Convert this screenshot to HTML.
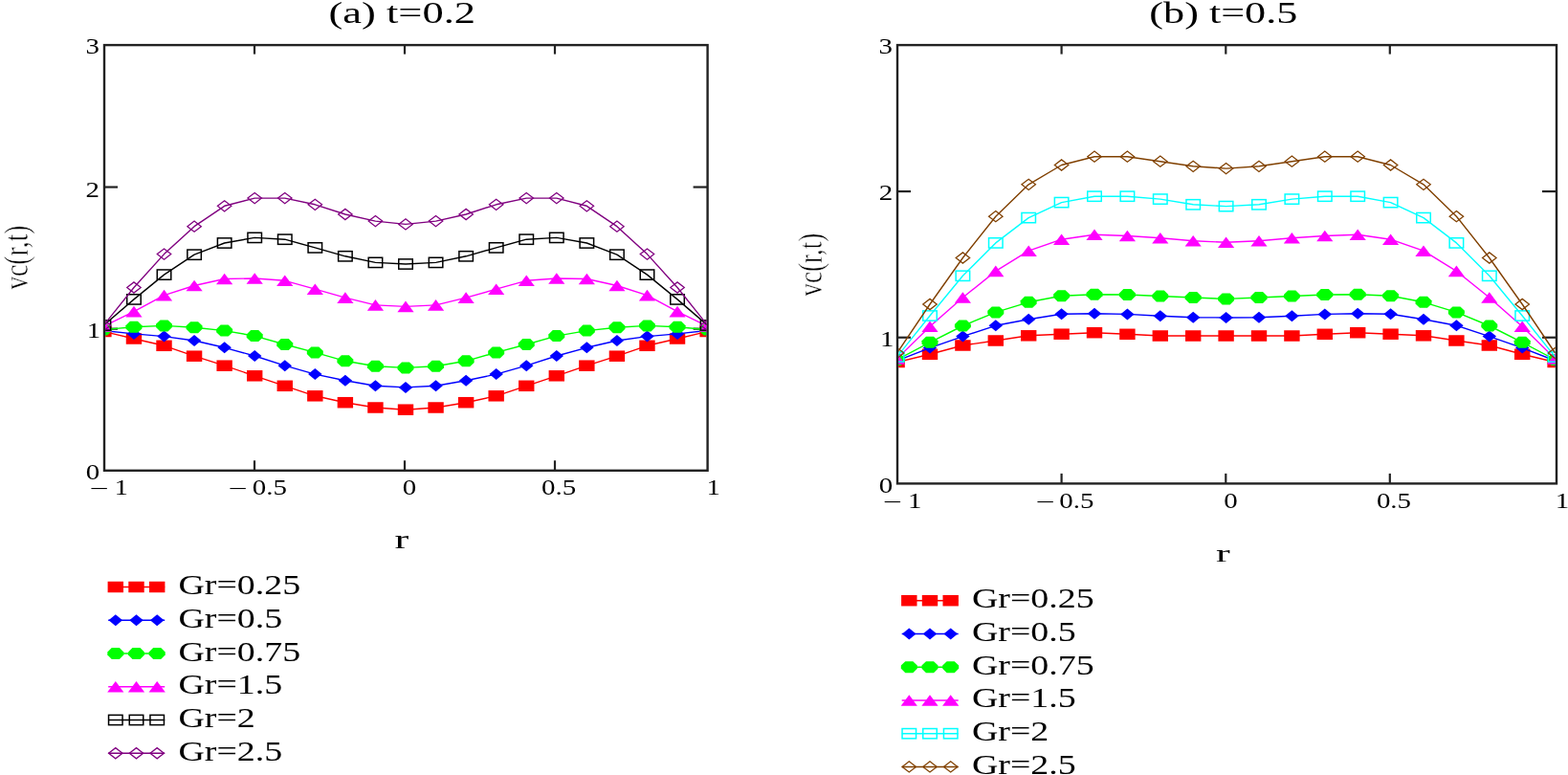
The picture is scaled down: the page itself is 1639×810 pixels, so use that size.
<!DOCTYPE html>
<html><head><meta charset="utf-8"><title>vc(r,t) plots</title>
<style>html,body{margin:0;padding:0;background:#fff;overflow:hidden;}svg{display:block;}
text{font-family:"Liberation Serif","Times New Roman",serif;}</style></head>
<body><svg width="1639" height="810" viewBox="0 0 1639 810">
<rect width="1639" height="810" fill="#fff"/>
<rect x="109" y="47.1" width="630.6" height="444.7" fill="none" stroke="#222" stroke-width="2.4"/>
<line x1="266" y1="491.8" x2="266" y2="481.3" stroke="#222" stroke-width="2.2"/>
<line x1="266" y1="47.1" x2="266" y2="56.6" stroke="#222" stroke-width="2.2"/>
<line x1="423" y1="491.8" x2="423" y2="481.3" stroke="#222" stroke-width="2.2"/>
<line x1="423" y1="47.1" x2="423" y2="56.6" stroke="#222" stroke-width="2.2"/>
<line x1="580" y1="491.8" x2="580" y2="481.3" stroke="#222" stroke-width="2.2"/>
<line x1="580" y1="47.1" x2="580" y2="56.6" stroke="#222" stroke-width="2.2"/>
<line x1="109" y1="343.67" x2="123" y2="343.67" stroke="#222" stroke-width="2.2"/>
<line x1="739.6" y1="343.67" x2="724.6" y2="343.67" stroke="#222" stroke-width="2.2"/>
<line x1="109" y1="195.54" x2="123" y2="195.54" stroke="#222" stroke-width="2.2"/>
<line x1="739.6" y1="195.54" x2="724.6" y2="195.54" stroke="#222" stroke-width="2.2"/>
<clipPath id="cl"><rect x="110.2" y="48.300000000000004" width="628.20" height="442.30"/></clipPath>
<g clip-path="url(#cl)">
<polyline points="108.40,346.50 139.96,354.00 171.52,361.30 203.08,372.20 234.64,382.20 266.20,392.80 297.76,403.30 329.32,413.80 360.88,420.70 392.44,426.00 424.00,428.20 455.56,426.00 487.12,420.70 518.68,413.80 550.24,403.30 581.80,392.80 613.36,382.20 644.92,372.20 676.48,361.30 708.04,354.00 739.60,346.50" fill="none" stroke="#ff0000" stroke-width="1.4" stroke-linejoin="round"/>
<rect x="100.20" y="340.75" width="16.4" height="11.5" fill="#ff0000"/>
<rect x="131.76" y="348.25" width="16.4" height="11.5" fill="#ff0000"/>
<rect x="163.32" y="355.55" width="16.4" height="11.5" fill="#ff0000"/>
<rect x="194.88" y="366.45" width="16.4" height="11.5" fill="#ff0000"/>
<rect x="226.44" y="376.45" width="16.4" height="11.5" fill="#ff0000"/>
<rect x="258.00" y="387.05" width="16.4" height="11.5" fill="#ff0000"/>
<rect x="289.56" y="397.55" width="16.4" height="11.5" fill="#ff0000"/>
<rect x="321.12" y="408.05" width="16.4" height="11.5" fill="#ff0000"/>
<rect x="352.68" y="414.95" width="16.4" height="11.5" fill="#ff0000"/>
<rect x="384.24" y="420.25" width="16.4" height="11.5" fill="#ff0000"/>
<rect x="415.80" y="422.45" width="16.4" height="11.5" fill="#ff0000"/>
<rect x="447.36" y="420.25" width="16.4" height="11.5" fill="#ff0000"/>
<rect x="478.92" y="414.95" width="16.4" height="11.5" fill="#ff0000"/>
<rect x="510.48" y="408.05" width="16.4" height="11.5" fill="#ff0000"/>
<rect x="542.04" y="397.55" width="16.4" height="11.5" fill="#ff0000"/>
<rect x="573.60" y="387.05" width="16.4" height="11.5" fill="#ff0000"/>
<rect x="605.16" y="376.45" width="16.4" height="11.5" fill="#ff0000"/>
<rect x="636.72" y="366.45" width="16.4" height="11.5" fill="#ff0000"/>
<rect x="668.28" y="355.55" width="16.4" height="11.5" fill="#ff0000"/>
<rect x="699.84" y="348.25" width="16.4" height="11.5" fill="#ff0000"/>
<rect x="731.40" y="340.75" width="16.4" height="11.5" fill="#ff0000"/>
<polyline points="108.40,345.50 139.96,348.90 171.52,351.60 203.08,356.00 234.64,363.30 266.20,372.00 297.76,382.20 329.32,391.10 360.88,397.80 392.44,403.30 424.00,404.90 455.56,403.30 487.12,397.80 518.68,391.10 550.24,382.20 581.80,372.00 613.36,363.30 644.92,356.00 676.48,351.60 708.04,348.90 739.60,345.50" fill="none" stroke="#0000ff" stroke-width="1.4" stroke-linejoin="round"/>
<path d="M101.15 345.50L108.40 339.50L115.65 345.50L108.40 351.50Z" fill="#0000ff"/>
<path d="M132.71 348.90L139.96 342.90L147.21 348.90L139.96 354.90Z" fill="#0000ff"/>
<path d="M164.27 351.60L171.52 345.60L178.77 351.60L171.52 357.60Z" fill="#0000ff"/>
<path d="M195.83 356.00L203.08 350.00L210.33 356.00L203.08 362.00Z" fill="#0000ff"/>
<path d="M227.39 363.30L234.64 357.30L241.89 363.30L234.64 369.30Z" fill="#0000ff"/>
<path d="M258.95 372.00L266.20 366.00L273.45 372.00L266.20 378.00Z" fill="#0000ff"/>
<path d="M290.51 382.20L297.76 376.20L305.01 382.20L297.76 388.20Z" fill="#0000ff"/>
<path d="M322.07 391.10L329.32 385.10L336.57 391.10L329.32 397.10Z" fill="#0000ff"/>
<path d="M353.63 397.80L360.88 391.80L368.13 397.80L360.88 403.80Z" fill="#0000ff"/>
<path d="M385.19 403.30L392.44 397.30L399.69 403.30L392.44 409.30Z" fill="#0000ff"/>
<path d="M416.75 404.90L424.00 398.90L431.25 404.90L424.00 410.90Z" fill="#0000ff"/>
<path d="M448.31 403.30L455.56 397.30L462.81 403.30L455.56 409.30Z" fill="#0000ff"/>
<path d="M479.87 397.80L487.12 391.80L494.37 397.80L487.12 403.80Z" fill="#0000ff"/>
<path d="M511.43 391.10L518.68 385.10L525.93 391.10L518.68 397.10Z" fill="#0000ff"/>
<path d="M542.99 382.20L550.24 376.20L557.49 382.20L550.24 388.20Z" fill="#0000ff"/>
<path d="M574.55 372.00L581.80 366.00L589.05 372.00L581.80 378.00Z" fill="#0000ff"/>
<path d="M606.11 363.30L613.36 357.30L620.61 363.30L613.36 369.30Z" fill="#0000ff"/>
<path d="M637.67 356.00L644.92 350.00L652.17 356.00L644.92 362.00Z" fill="#0000ff"/>
<path d="M669.23 351.60L676.48 345.60L683.73 351.60L676.48 357.60Z" fill="#0000ff"/>
<path d="M700.79 348.90L708.04 342.90L715.29 348.90L708.04 354.90Z" fill="#0000ff"/>
<path d="M732.35 345.50L739.60 339.50L746.85 345.50L739.60 351.50Z" fill="#0000ff"/>
<polyline points="108.40,344.50 139.96,341.80 171.52,340.40 203.08,342.20 234.64,345.60 266.20,351.10 297.76,360.00 329.32,368.40 360.88,377.30 392.44,382.70 424.00,384.40 455.56,382.70 487.12,377.30 518.68,368.40 550.24,360.00 581.80,351.10 613.36,345.60 644.92,342.20 676.48,340.40 708.04,341.80 739.60,344.50" fill="none" stroke="#00ff00" stroke-width="1.4" stroke-linejoin="round"/>
<path d="M104.40 338.50L112.40 338.50L116.90 342.90L116.90 346.10L112.40 350.50L104.40 350.50L99.90 346.10L99.90 342.90Z" fill="#00ff00"/>
<path d="M135.96 335.80L143.96 335.80L148.46 340.20L148.46 343.40L143.96 347.80L135.96 347.80L131.46 343.40L131.46 340.20Z" fill="#00ff00"/>
<path d="M167.52 334.40L175.52 334.40L180.02 338.80L180.02 342.00L175.52 346.40L167.52 346.40L163.02 342.00L163.02 338.80Z" fill="#00ff00"/>
<path d="M199.08 336.20L207.08 336.20L211.58 340.60L211.58 343.80L207.08 348.20L199.08 348.20L194.58 343.80L194.58 340.60Z" fill="#00ff00"/>
<path d="M230.64 339.60L238.64 339.60L243.14 344.00L243.14 347.20L238.64 351.60L230.64 351.60L226.14 347.20L226.14 344.00Z" fill="#00ff00"/>
<path d="M262.20 345.10L270.20 345.10L274.70 349.50L274.70 352.70L270.20 357.10L262.20 357.10L257.70 352.70L257.70 349.50Z" fill="#00ff00"/>
<path d="M293.76 354.00L301.76 354.00L306.26 358.40L306.26 361.60L301.76 366.00L293.76 366.00L289.26 361.60L289.26 358.40Z" fill="#00ff00"/>
<path d="M325.32 362.40L333.32 362.40L337.82 366.80L337.82 370.00L333.32 374.40L325.32 374.40L320.82 370.00L320.82 366.80Z" fill="#00ff00"/>
<path d="M356.88 371.30L364.88 371.30L369.38 375.70L369.38 378.90L364.88 383.30L356.88 383.30L352.38 378.90L352.38 375.70Z" fill="#00ff00"/>
<path d="M388.44 376.70L396.44 376.70L400.94 381.10L400.94 384.30L396.44 388.70L388.44 388.70L383.94 384.30L383.94 381.10Z" fill="#00ff00"/>
<path d="M420.00 378.40L428.00 378.40L432.50 382.80L432.50 386.00L428.00 390.40L420.00 390.40L415.50 386.00L415.50 382.80Z" fill="#00ff00"/>
<path d="M451.56 376.70L459.56 376.70L464.06 381.10L464.06 384.30L459.56 388.70L451.56 388.70L447.06 384.30L447.06 381.10Z" fill="#00ff00"/>
<path d="M483.12 371.30L491.12 371.30L495.62 375.70L495.62 378.90L491.12 383.30L483.12 383.30L478.62 378.90L478.62 375.70Z" fill="#00ff00"/>
<path d="M514.68 362.40L522.68 362.40L527.18 366.80L527.18 370.00L522.68 374.40L514.68 374.40L510.18 370.00L510.18 366.80Z" fill="#00ff00"/>
<path d="M546.24 354.00L554.24 354.00L558.74 358.40L558.74 361.60L554.24 366.00L546.24 366.00L541.74 361.60L541.74 358.40Z" fill="#00ff00"/>
<path d="M577.80 345.10L585.80 345.10L590.30 349.50L590.30 352.70L585.80 357.10L577.80 357.10L573.30 352.70L573.30 349.50Z" fill="#00ff00"/>
<path d="M609.36 339.60L617.36 339.60L621.86 344.00L621.86 347.20L617.36 351.60L609.36 351.60L604.86 347.20L604.86 344.00Z" fill="#00ff00"/>
<path d="M640.92 336.20L648.92 336.20L653.42 340.60L653.42 343.80L648.92 348.20L640.92 348.20L636.42 343.80L636.42 340.60Z" fill="#00ff00"/>
<path d="M672.48 334.40L680.48 334.40L684.98 338.80L684.98 342.00L680.48 346.40L672.48 346.40L667.98 342.00L667.98 338.80Z" fill="#00ff00"/>
<path d="M704.04 335.80L712.04 335.80L716.54 340.20L716.54 343.40L712.04 347.80L704.04 347.80L699.54 343.40L699.54 340.20Z" fill="#00ff00"/>
<path d="M735.60 338.50L743.60 338.50L748.10 342.90L748.10 346.10L743.60 350.50L735.60 350.50L731.10 346.10L731.10 342.90Z" fill="#00ff00"/>
<polyline points="108.40,341.00 139.96,325.60 171.52,308.60 203.08,298.50 234.64,291.50 266.20,291.00 297.76,293.30 329.32,302.20 360.88,311.10 392.44,318.90 424.00,320.40 455.56,318.90 487.12,311.10 518.68,302.20 550.24,293.30 581.80,291.00 613.36,291.50 644.92,298.50 676.48,308.60 708.04,325.60 739.60,341.00" fill="none" stroke="#ff00ff" stroke-width="1.4" stroke-linejoin="round"/>
<path d="M108.40 335.20L117.00 346.80L99.80 346.80Z" fill="#ff00ff"/>
<path d="M139.96 319.80L148.56 331.40L131.36 331.40Z" fill="#ff00ff"/>
<path d="M171.52 302.80L180.12 314.40L162.92 314.40Z" fill="#ff00ff"/>
<path d="M203.08 292.70L211.68 304.30L194.48 304.30Z" fill="#ff00ff"/>
<path d="M234.64 285.70L243.24 297.30L226.04 297.30Z" fill="#ff00ff"/>
<path d="M266.20 285.20L274.80 296.80L257.60 296.80Z" fill="#ff00ff"/>
<path d="M297.76 287.50L306.36 299.10L289.16 299.10Z" fill="#ff00ff"/>
<path d="M329.32 296.40L337.92 308.00L320.72 308.00Z" fill="#ff00ff"/>
<path d="M360.88 305.30L369.48 316.90L352.28 316.90Z" fill="#ff00ff"/>
<path d="M392.44 313.10L401.04 324.70L383.84 324.70Z" fill="#ff00ff"/>
<path d="M424.00 314.60L432.60 326.20L415.40 326.20Z" fill="#ff00ff"/>
<path d="M455.56 313.10L464.16 324.70L446.96 324.70Z" fill="#ff00ff"/>
<path d="M487.12 305.30L495.72 316.90L478.52 316.90Z" fill="#ff00ff"/>
<path d="M518.68 296.40L527.28 308.00L510.08 308.00Z" fill="#ff00ff"/>
<path d="M550.24 287.50L558.84 299.10L541.64 299.10Z" fill="#ff00ff"/>
<path d="M581.80 285.20L590.40 296.80L573.20 296.80Z" fill="#ff00ff"/>
<path d="M613.36 285.70L621.96 297.30L604.76 297.30Z" fill="#ff00ff"/>
<path d="M644.92 292.70L653.52 304.30L636.32 304.30Z" fill="#ff00ff"/>
<path d="M676.48 302.80L685.08 314.40L667.88 314.40Z" fill="#ff00ff"/>
<path d="M708.04 319.80L716.64 331.40L699.44 331.40Z" fill="#ff00ff"/>
<path d="M739.60 335.20L748.20 346.80L731.00 346.80Z" fill="#ff00ff"/>
<polyline points="108.40,340.00 139.96,312.90 171.52,287.10 203.08,266.20 234.64,254.00 266.20,248.40 297.76,250.20 329.32,258.90 360.88,267.80 392.44,274.40 424.00,276.00 455.56,274.40 487.12,267.80 518.68,258.90 550.24,250.20 581.80,248.40 613.36,254.00 644.92,266.20 676.48,287.10 708.04,312.90 739.60,340.00" fill="none" stroke="#000000" stroke-width="1.4" stroke-linejoin="round"/>
<rect x="101.15" y="334.85" width="14.5" height="10.3" fill="none" stroke="#000000" stroke-width="1.5"/>
<rect x="132.71" y="307.75" width="14.5" height="10.3" fill="none" stroke="#000000" stroke-width="1.5"/>
<rect x="164.27" y="281.95" width="14.5" height="10.3" fill="none" stroke="#000000" stroke-width="1.5"/>
<rect x="195.83" y="261.05" width="14.5" height="10.3" fill="none" stroke="#000000" stroke-width="1.5"/>
<rect x="227.39" y="248.85" width="14.5" height="10.3" fill="none" stroke="#000000" stroke-width="1.5"/>
<rect x="258.95" y="243.25" width="14.5" height="10.3" fill="none" stroke="#000000" stroke-width="1.5"/>
<rect x="290.51" y="245.05" width="14.5" height="10.3" fill="none" stroke="#000000" stroke-width="1.5"/>
<rect x="322.07" y="253.75" width="14.5" height="10.3" fill="none" stroke="#000000" stroke-width="1.5"/>
<rect x="353.63" y="262.65" width="14.5" height="10.3" fill="none" stroke="#000000" stroke-width="1.5"/>
<rect x="385.19" y="269.25" width="14.5" height="10.3" fill="none" stroke="#000000" stroke-width="1.5"/>
<rect x="416.75" y="270.85" width="14.5" height="10.3" fill="none" stroke="#000000" stroke-width="1.5"/>
<rect x="448.31" y="269.25" width="14.5" height="10.3" fill="none" stroke="#000000" stroke-width="1.5"/>
<rect x="479.87" y="262.65" width="14.5" height="10.3" fill="none" stroke="#000000" stroke-width="1.5"/>
<rect x="511.43" y="253.75" width="14.5" height="10.3" fill="none" stroke="#000000" stroke-width="1.5"/>
<rect x="542.99" y="245.05" width="14.5" height="10.3" fill="none" stroke="#000000" stroke-width="1.5"/>
<rect x="574.55" y="243.25" width="14.5" height="10.3" fill="none" stroke="#000000" stroke-width="1.5"/>
<rect x="606.11" y="248.85" width="14.5" height="10.3" fill="none" stroke="#000000" stroke-width="1.5"/>
<rect x="637.67" y="261.05" width="14.5" height="10.3" fill="none" stroke="#000000" stroke-width="1.5"/>
<rect x="669.23" y="281.95" width="14.5" height="10.3" fill="none" stroke="#000000" stroke-width="1.5"/>
<rect x="700.79" y="307.75" width="14.5" height="10.3" fill="none" stroke="#000000" stroke-width="1.5"/>
<rect x="732.35" y="334.85" width="14.5" height="10.3" fill="none" stroke="#000000" stroke-width="1.5"/>
<polyline points="108.40,340.00 139.96,300.50 171.52,265.60 203.08,236.70 234.64,215.30 266.20,207.10 297.76,207.10 329.32,213.80 360.88,224.00 392.44,231.10 424.00,234.40 455.56,231.10 487.12,224.00 518.68,213.80 550.24,207.10 581.80,207.10 613.36,215.30 644.92,236.70 676.48,265.60 708.04,300.50 739.60,340.00" fill="none" stroke="#800080" stroke-width="1.4" stroke-linejoin="round"/>
<path d="M101.15 340.00L108.40 334.40L115.65 340.00L108.40 345.60Z" fill="none" stroke="#800080" stroke-width="1.25"/>
<path d="M132.71 300.50L139.96 294.90L147.21 300.50L139.96 306.10Z" fill="none" stroke="#800080" stroke-width="1.25"/>
<path d="M164.27 265.60L171.52 260.00L178.77 265.60L171.52 271.20Z" fill="none" stroke="#800080" stroke-width="1.25"/>
<path d="M195.83 236.70L203.08 231.10L210.33 236.70L203.08 242.30Z" fill="none" stroke="#800080" stroke-width="1.25"/>
<path d="M227.39 215.30L234.64 209.70L241.89 215.30L234.64 220.90Z" fill="none" stroke="#800080" stroke-width="1.25"/>
<path d="M258.95 207.10L266.20 201.50L273.45 207.10L266.20 212.70Z" fill="none" stroke="#800080" stroke-width="1.25"/>
<path d="M290.51 207.10L297.76 201.50L305.01 207.10L297.76 212.70Z" fill="none" stroke="#800080" stroke-width="1.25"/>
<path d="M322.07 213.80L329.32 208.20L336.57 213.80L329.32 219.40Z" fill="none" stroke="#800080" stroke-width="1.25"/>
<path d="M353.63 224.00L360.88 218.40L368.13 224.00L360.88 229.60Z" fill="none" stroke="#800080" stroke-width="1.25"/>
<path d="M385.19 231.10L392.44 225.50L399.69 231.10L392.44 236.70Z" fill="none" stroke="#800080" stroke-width="1.25"/>
<path d="M416.75 234.40L424.00 228.80L431.25 234.40L424.00 240.00Z" fill="none" stroke="#800080" stroke-width="1.25"/>
<path d="M448.31 231.10L455.56 225.50L462.81 231.10L455.56 236.70Z" fill="none" stroke="#800080" stroke-width="1.25"/>
<path d="M479.87 224.00L487.12 218.40L494.37 224.00L487.12 229.60Z" fill="none" stroke="#800080" stroke-width="1.25"/>
<path d="M511.43 213.80L518.68 208.20L525.93 213.80L518.68 219.40Z" fill="none" stroke="#800080" stroke-width="1.25"/>
<path d="M542.99 207.10L550.24 201.50L557.49 207.10L550.24 212.70Z" fill="none" stroke="#800080" stroke-width="1.25"/>
<path d="M574.55 207.10L581.80 201.50L589.05 207.10L581.80 212.70Z" fill="none" stroke="#800080" stroke-width="1.25"/>
<path d="M606.11 215.30L613.36 209.70L620.61 215.30L613.36 220.90Z" fill="none" stroke="#800080" stroke-width="1.25"/>
<path d="M637.67 236.70L644.92 231.10L652.17 236.70L644.92 242.30Z" fill="none" stroke="#800080" stroke-width="1.25"/>
<path d="M669.23 265.60L676.48 260.00L683.73 265.60L676.48 271.20Z" fill="none" stroke="#800080" stroke-width="1.25"/>
<path d="M700.79 300.50L708.04 294.90L715.29 300.50L708.04 306.10Z" fill="none" stroke="#800080" stroke-width="1.25"/>
<path d="M732.35 340.00L739.60 334.40L746.85 340.00L739.60 345.60Z" fill="none" stroke="#800080" stroke-width="1.25"/>
</g>
<rect x="938" y="47.1" width="689" height="458.29999999999995" fill="none" stroke="#222" stroke-width="2.4"/>
<line x1="1109.6" y1="505.4" x2="1109.6" y2="494.9" stroke="#222" stroke-width="2.2"/>
<line x1="1109.6" y1="47.1" x2="1109.6" y2="56.6" stroke="#222" stroke-width="2.2"/>
<line x1="1281.3" y1="505.4" x2="1281.3" y2="494.9" stroke="#222" stroke-width="2.2"/>
<line x1="1281.3" y1="47.1" x2="1281.3" y2="56.6" stroke="#222" stroke-width="2.2"/>
<line x1="1452.8" y1="505.4" x2="1452.8" y2="494.9" stroke="#222" stroke-width="2.2"/>
<line x1="1452.8" y1="47.1" x2="1452.8" y2="56.6" stroke="#222" stroke-width="2.2"/>
<line x1="938" y1="352.73" x2="952" y2="352.73" stroke="#222" stroke-width="2.2"/>
<line x1="1627" y1="352.73" x2="1612" y2="352.73" stroke="#222" stroke-width="2.2"/>
<line x1="938" y1="200.06" x2="952" y2="200.06" stroke="#222" stroke-width="2.2"/>
<line x1="1627" y1="200.06" x2="1612" y2="200.06" stroke="#222" stroke-width="2.2"/>
<clipPath id="cr"><rect x="939.2" y="48.300000000000004" width="686.60" height="455.90"/></clipPath>
<g clip-path="url(#cr)">
<polyline points="937.60,378.50 972.00,370.30 1006.40,361.00 1040.80,356.00 1075.20,350.80 1109.60,349.20 1144.00,347.70 1178.40,349.30 1212.80,351.00 1247.20,351.00 1281.60,351.00 1316.00,351.00 1350.40,351.00 1384.80,349.30 1419.20,347.70 1453.60,349.20 1488.00,350.80 1522.40,356.00 1556.80,361.00 1591.20,370.30 1625.60,378.50" fill="none" stroke="#ff0000" stroke-width="1.4" stroke-linejoin="round"/>
<rect x="929.40" y="372.75" width="16.4" height="11.5" fill="#ff0000"/>
<rect x="963.80" y="364.55" width="16.4" height="11.5" fill="#ff0000"/>
<rect x="998.20" y="355.25" width="16.4" height="11.5" fill="#ff0000"/>
<rect x="1032.60" y="350.25" width="16.4" height="11.5" fill="#ff0000"/>
<rect x="1067.00" y="345.05" width="16.4" height="11.5" fill="#ff0000"/>
<rect x="1101.40" y="343.45" width="16.4" height="11.5" fill="#ff0000"/>
<rect x="1135.80" y="341.95" width="16.4" height="11.5" fill="#ff0000"/>
<rect x="1170.20" y="343.55" width="16.4" height="11.5" fill="#ff0000"/>
<rect x="1204.60" y="345.25" width="16.4" height="11.5" fill="#ff0000"/>
<rect x="1239.00" y="345.25" width="16.4" height="11.5" fill="#ff0000"/>
<rect x="1273.40" y="345.25" width="16.4" height="11.5" fill="#ff0000"/>
<rect x="1307.80" y="345.25" width="16.4" height="11.5" fill="#ff0000"/>
<rect x="1342.20" y="345.25" width="16.4" height="11.5" fill="#ff0000"/>
<rect x="1376.60" y="343.55" width="16.4" height="11.5" fill="#ff0000"/>
<rect x="1411.00" y="341.95" width="16.4" height="11.5" fill="#ff0000"/>
<rect x="1445.40" y="343.45" width="16.4" height="11.5" fill="#ff0000"/>
<rect x="1479.80" y="345.05" width="16.4" height="11.5" fill="#ff0000"/>
<rect x="1514.20" y="350.25" width="16.4" height="11.5" fill="#ff0000"/>
<rect x="1548.60" y="355.25" width="16.4" height="11.5" fill="#ff0000"/>
<rect x="1583.00" y="364.55" width="16.4" height="11.5" fill="#ff0000"/>
<rect x="1617.40" y="372.75" width="16.4" height="11.5" fill="#ff0000"/>
<polyline points="937.60,377.00 972.00,363.60 1006.40,351.60 1040.80,340.30 1075.20,333.70 1109.60,328.30 1144.00,327.70 1178.40,328.40 1212.80,330.20 1247.20,331.70 1281.60,332.00 1316.00,331.70 1350.40,330.20 1384.80,328.40 1419.20,327.70 1453.60,328.30 1488.00,333.70 1522.40,340.30 1556.80,351.60 1591.20,363.60 1625.60,377.00" fill="none" stroke="#0000ff" stroke-width="1.4" stroke-linejoin="round"/>
<path d="M930.35 377.00L937.60 371.00L944.85 377.00L937.60 383.00Z" fill="#0000ff"/>
<path d="M964.75 363.60L972.00 357.60L979.25 363.60L972.00 369.60Z" fill="#0000ff"/>
<path d="M999.15 351.60L1006.40 345.60L1013.65 351.60L1006.40 357.60Z" fill="#0000ff"/>
<path d="M1033.55 340.30L1040.80 334.30L1048.05 340.30L1040.80 346.30Z" fill="#0000ff"/>
<path d="M1067.95 333.70L1075.20 327.70L1082.45 333.70L1075.20 339.70Z" fill="#0000ff"/>
<path d="M1102.35 328.30L1109.60 322.30L1116.85 328.30L1109.60 334.30Z" fill="#0000ff"/>
<path d="M1136.75 327.70L1144.00 321.70L1151.25 327.70L1144.00 333.70Z" fill="#0000ff"/>
<path d="M1171.15 328.40L1178.40 322.40L1185.65 328.40L1178.40 334.40Z" fill="#0000ff"/>
<path d="M1205.55 330.20L1212.80 324.20L1220.05 330.20L1212.80 336.20Z" fill="#0000ff"/>
<path d="M1239.95 331.70L1247.20 325.70L1254.45 331.70L1247.20 337.70Z" fill="#0000ff"/>
<path d="M1274.35 332.00L1281.60 326.00L1288.85 332.00L1281.60 338.00Z" fill="#0000ff"/>
<path d="M1308.75 331.70L1316.00 325.70L1323.25 331.70L1316.00 337.70Z" fill="#0000ff"/>
<path d="M1343.15 330.20L1350.40 324.20L1357.65 330.20L1350.40 336.20Z" fill="#0000ff"/>
<path d="M1377.55 328.40L1384.80 322.40L1392.05 328.40L1384.80 334.40Z" fill="#0000ff"/>
<path d="M1411.95 327.70L1419.20 321.70L1426.45 327.70L1419.20 333.70Z" fill="#0000ff"/>
<path d="M1446.35 328.30L1453.60 322.30L1460.85 328.30L1453.60 334.30Z" fill="#0000ff"/>
<path d="M1480.75 333.70L1488.00 327.70L1495.25 333.70L1488.00 339.70Z" fill="#0000ff"/>
<path d="M1515.15 340.30L1522.40 334.30L1529.65 340.30L1522.40 346.30Z" fill="#0000ff"/>
<path d="M1549.55 351.60L1556.80 345.60L1564.05 351.60L1556.80 357.60Z" fill="#0000ff"/>
<path d="M1583.95 363.60L1591.20 357.60L1598.45 363.60L1591.20 369.60Z" fill="#0000ff"/>
<path d="M1618.35 377.00L1625.60 371.00L1632.85 377.00L1625.60 383.00Z" fill="#0000ff"/>
<polyline points="937.60,376.00 972.00,357.80 1006.40,340.50 1040.80,326.40 1075.20,315.80 1109.60,309.20 1144.00,307.70 1178.40,308.00 1212.80,309.50 1247.20,311.00 1281.60,312.40 1316.00,311.00 1350.40,309.50 1384.80,308.00 1419.20,307.70 1453.60,309.20 1488.00,315.80 1522.40,326.40 1556.80,340.50 1591.20,357.80 1625.60,376.00" fill="none" stroke="#00ff00" stroke-width="1.4" stroke-linejoin="round"/>
<path d="M933.60 370.00L941.60 370.00L946.10 374.40L946.10 377.60L941.60 382.00L933.60 382.00L929.10 377.60L929.10 374.40Z" fill="#00ff00"/>
<path d="M968.00 351.80L976.00 351.80L980.50 356.20L980.50 359.40L976.00 363.80L968.00 363.80L963.50 359.40L963.50 356.20Z" fill="#00ff00"/>
<path d="M1002.40 334.50L1010.40 334.50L1014.90 338.90L1014.90 342.10L1010.40 346.50L1002.40 346.50L997.90 342.10L997.90 338.90Z" fill="#00ff00"/>
<path d="M1036.80 320.40L1044.80 320.40L1049.30 324.80L1049.30 328.00L1044.80 332.40L1036.80 332.40L1032.30 328.00L1032.30 324.80Z" fill="#00ff00"/>
<path d="M1071.20 309.80L1079.20 309.80L1083.70 314.20L1083.70 317.40L1079.20 321.80L1071.20 321.80L1066.70 317.40L1066.70 314.20Z" fill="#00ff00"/>
<path d="M1105.60 303.20L1113.60 303.20L1118.10 307.60L1118.10 310.80L1113.60 315.20L1105.60 315.20L1101.10 310.80L1101.10 307.60Z" fill="#00ff00"/>
<path d="M1140.00 301.70L1148.00 301.70L1152.50 306.10L1152.50 309.30L1148.00 313.70L1140.00 313.70L1135.50 309.30L1135.50 306.10Z" fill="#00ff00"/>
<path d="M1174.40 302.00L1182.40 302.00L1186.90 306.40L1186.90 309.60L1182.40 314.00L1174.40 314.00L1169.90 309.60L1169.90 306.40Z" fill="#00ff00"/>
<path d="M1208.80 303.50L1216.80 303.50L1221.30 307.90L1221.30 311.10L1216.80 315.50L1208.80 315.50L1204.30 311.10L1204.30 307.90Z" fill="#00ff00"/>
<path d="M1243.20 305.00L1251.20 305.00L1255.70 309.40L1255.70 312.60L1251.20 317.00L1243.20 317.00L1238.70 312.60L1238.70 309.40Z" fill="#00ff00"/>
<path d="M1277.60 306.40L1285.60 306.40L1290.10 310.80L1290.10 314.00L1285.60 318.40L1277.60 318.40L1273.10 314.00L1273.10 310.80Z" fill="#00ff00"/>
<path d="M1312.00 305.00L1320.00 305.00L1324.50 309.40L1324.50 312.60L1320.00 317.00L1312.00 317.00L1307.50 312.60L1307.50 309.40Z" fill="#00ff00"/>
<path d="M1346.40 303.50L1354.40 303.50L1358.90 307.90L1358.90 311.10L1354.40 315.50L1346.40 315.50L1341.90 311.10L1341.90 307.90Z" fill="#00ff00"/>
<path d="M1380.80 302.00L1388.80 302.00L1393.30 306.40L1393.30 309.60L1388.80 314.00L1380.80 314.00L1376.30 309.60L1376.30 306.40Z" fill="#00ff00"/>
<path d="M1415.20 301.70L1423.20 301.70L1427.70 306.10L1427.70 309.30L1423.20 313.70L1415.20 313.70L1410.70 309.30L1410.70 306.10Z" fill="#00ff00"/>
<path d="M1449.60 303.20L1457.60 303.20L1462.10 307.60L1462.10 310.80L1457.60 315.20L1449.60 315.20L1445.10 310.80L1445.10 307.60Z" fill="#00ff00"/>
<path d="M1484.00 309.80L1492.00 309.80L1496.50 314.20L1496.50 317.40L1492.00 321.80L1484.00 321.80L1479.50 317.40L1479.50 314.20Z" fill="#00ff00"/>
<path d="M1518.40 320.40L1526.40 320.40L1530.90 324.80L1530.90 328.00L1526.40 332.40L1518.40 332.40L1513.90 328.00L1513.90 324.80Z" fill="#00ff00"/>
<path d="M1552.80 334.50L1560.80 334.50L1565.30 338.90L1565.30 342.10L1560.80 346.50L1552.80 346.50L1548.30 342.10L1548.30 338.90Z" fill="#00ff00"/>
<path d="M1587.20 351.80L1595.20 351.80L1599.70 356.20L1599.70 359.40L1595.20 363.80L1587.20 363.80L1582.70 359.40L1582.70 356.20Z" fill="#00ff00"/>
<path d="M1621.60 370.00L1629.60 370.00L1634.10 374.40L1634.10 377.60L1629.60 382.00L1621.60 382.00L1617.10 377.60L1617.10 374.40Z" fill="#00ff00"/>
<polyline points="937.60,375.00 972.00,341.20 1006.40,311.00 1040.80,283.40 1075.20,262.20 1109.60,250.20 1144.00,245.20 1178.40,246.50 1212.80,248.80 1247.20,251.80 1281.60,253.30 1316.00,251.80 1350.40,248.80 1384.80,246.50 1419.20,245.20 1453.60,250.20 1488.00,262.20 1522.40,283.40 1556.80,311.00 1591.20,341.20 1625.60,375.00" fill="none" stroke="#ff00ff" stroke-width="1.4" stroke-linejoin="round"/>
<path d="M937.60 369.20L946.20 380.80L929.00 380.80Z" fill="#ff00ff"/>
<path d="M972.00 335.40L980.60 347.00L963.40 347.00Z" fill="#ff00ff"/>
<path d="M1006.40 305.20L1015.00 316.80L997.80 316.80Z" fill="#ff00ff"/>
<path d="M1040.80 277.60L1049.40 289.20L1032.20 289.20Z" fill="#ff00ff"/>
<path d="M1075.20 256.40L1083.80 268.00L1066.60 268.00Z" fill="#ff00ff"/>
<path d="M1109.60 244.40L1118.20 256.00L1101.00 256.00Z" fill="#ff00ff"/>
<path d="M1144.00 239.40L1152.60 251.00L1135.40 251.00Z" fill="#ff00ff"/>
<path d="M1178.40 240.70L1187.00 252.30L1169.80 252.30Z" fill="#ff00ff"/>
<path d="M1212.80 243.00L1221.40 254.60L1204.20 254.60Z" fill="#ff00ff"/>
<path d="M1247.20 246.00L1255.80 257.60L1238.60 257.60Z" fill="#ff00ff"/>
<path d="M1281.60 247.50L1290.20 259.10L1273.00 259.10Z" fill="#ff00ff"/>
<path d="M1316.00 246.00L1324.60 257.60L1307.40 257.60Z" fill="#ff00ff"/>
<path d="M1350.40 243.00L1359.00 254.60L1341.80 254.60Z" fill="#ff00ff"/>
<path d="M1384.80 240.70L1393.40 252.30L1376.20 252.30Z" fill="#ff00ff"/>
<path d="M1419.20 239.40L1427.80 251.00L1410.60 251.00Z" fill="#ff00ff"/>
<path d="M1453.60 244.40L1462.20 256.00L1445.00 256.00Z" fill="#ff00ff"/>
<path d="M1488.00 256.40L1496.60 268.00L1479.40 268.00Z" fill="#ff00ff"/>
<path d="M1522.40 277.60L1531.00 289.20L1513.80 289.20Z" fill="#ff00ff"/>
<path d="M1556.80 305.20L1565.40 316.80L1548.20 316.80Z" fill="#ff00ff"/>
<path d="M1591.20 335.40L1599.80 347.00L1582.60 347.00Z" fill="#ff00ff"/>
<path d="M1625.60 369.20L1634.20 380.80L1617.00 380.80Z" fill="#ff00ff"/>
<polyline points="937.60,373.00 972.00,330.00 1006.40,288.30 1040.80,253.90 1075.20,227.60 1109.60,211.60 1144.00,205.20 1178.40,205.20 1212.80,208.10 1247.20,213.80 1281.60,215.60 1316.00,213.80 1350.40,208.10 1384.80,205.20 1419.20,205.20 1453.60,211.60 1488.00,227.60 1522.40,253.90 1556.80,288.30 1591.20,330.00 1625.60,373.00" fill="none" stroke="#00ffff" stroke-width="1.4" stroke-linejoin="round"/>
<rect x="930.35" y="367.85" width="14.5" height="10.3" fill="none" stroke="#00ffff" stroke-width="1.5"/>
<rect x="964.75" y="324.85" width="14.5" height="10.3" fill="none" stroke="#00ffff" stroke-width="1.5"/>
<rect x="999.15" y="283.15" width="14.5" height="10.3" fill="none" stroke="#00ffff" stroke-width="1.5"/>
<rect x="1033.55" y="248.75" width="14.5" height="10.3" fill="none" stroke="#00ffff" stroke-width="1.5"/>
<rect x="1067.95" y="222.45" width="14.5" height="10.3" fill="none" stroke="#00ffff" stroke-width="1.5"/>
<rect x="1102.35" y="206.45" width="14.5" height="10.3" fill="none" stroke="#00ffff" stroke-width="1.5"/>
<rect x="1136.75" y="200.05" width="14.5" height="10.3" fill="none" stroke="#00ffff" stroke-width="1.5"/>
<rect x="1171.15" y="200.05" width="14.5" height="10.3" fill="none" stroke="#00ffff" stroke-width="1.5"/>
<rect x="1205.55" y="202.95" width="14.5" height="10.3" fill="none" stroke="#00ffff" stroke-width="1.5"/>
<rect x="1239.95" y="208.65" width="14.5" height="10.3" fill="none" stroke="#00ffff" stroke-width="1.5"/>
<rect x="1274.35" y="210.45" width="14.5" height="10.3" fill="none" stroke="#00ffff" stroke-width="1.5"/>
<rect x="1308.75" y="208.65" width="14.5" height="10.3" fill="none" stroke="#00ffff" stroke-width="1.5"/>
<rect x="1343.15" y="202.95" width="14.5" height="10.3" fill="none" stroke="#00ffff" stroke-width="1.5"/>
<rect x="1377.55" y="200.05" width="14.5" height="10.3" fill="none" stroke="#00ffff" stroke-width="1.5"/>
<rect x="1411.95" y="200.05" width="14.5" height="10.3" fill="none" stroke="#00ffff" stroke-width="1.5"/>
<rect x="1446.35" y="206.45" width="14.5" height="10.3" fill="none" stroke="#00ffff" stroke-width="1.5"/>
<rect x="1480.75" y="222.45" width="14.5" height="10.3" fill="none" stroke="#00ffff" stroke-width="1.5"/>
<rect x="1515.15" y="248.75" width="14.5" height="10.3" fill="none" stroke="#00ffff" stroke-width="1.5"/>
<rect x="1549.55" y="283.15" width="14.5" height="10.3" fill="none" stroke="#00ffff" stroke-width="1.5"/>
<rect x="1583.95" y="324.85" width="14.5" height="10.3" fill="none" stroke="#00ffff" stroke-width="1.5"/>
<rect x="1618.35" y="367.85" width="14.5" height="10.3" fill="none" stroke="#00ffff" stroke-width="1.5"/>
<polyline points="937.60,369.00 972.00,318.00 1006.40,269.50 1040.80,226.20 1075.20,192.80 1109.60,172.50 1144.00,163.70 1178.40,163.70 1212.80,168.70 1247.20,173.80 1281.60,176.10 1316.00,173.80 1350.40,168.70 1384.80,163.70 1419.20,163.70 1453.60,172.50 1488.00,192.80 1522.40,226.20 1556.80,269.50 1591.20,318.00 1625.60,369.00" fill="none" stroke="#804000" stroke-width="1.4" stroke-linejoin="round"/>
<path d="M930.35 369.00L937.60 363.40L944.85 369.00L937.60 374.60Z" fill="none" stroke="#804000" stroke-width="1.25"/>
<path d="M964.75 318.00L972.00 312.40L979.25 318.00L972.00 323.60Z" fill="none" stroke="#804000" stroke-width="1.25"/>
<path d="M999.15 269.50L1006.40 263.90L1013.65 269.50L1006.40 275.10Z" fill="none" stroke="#804000" stroke-width="1.25"/>
<path d="M1033.55 226.20L1040.80 220.60L1048.05 226.20L1040.80 231.80Z" fill="none" stroke="#804000" stroke-width="1.25"/>
<path d="M1067.95 192.80L1075.20 187.20L1082.45 192.80L1075.20 198.40Z" fill="none" stroke="#804000" stroke-width="1.25"/>
<path d="M1102.35 172.50L1109.60 166.90L1116.85 172.50L1109.60 178.10Z" fill="none" stroke="#804000" stroke-width="1.25"/>
<path d="M1136.75 163.70L1144.00 158.10L1151.25 163.70L1144.00 169.30Z" fill="none" stroke="#804000" stroke-width="1.25"/>
<path d="M1171.15 163.70L1178.40 158.10L1185.65 163.70L1178.40 169.30Z" fill="none" stroke="#804000" stroke-width="1.25"/>
<path d="M1205.55 168.70L1212.80 163.10L1220.05 168.70L1212.80 174.30Z" fill="none" stroke="#804000" stroke-width="1.25"/>
<path d="M1239.95 173.80L1247.20 168.20L1254.45 173.80L1247.20 179.40Z" fill="none" stroke="#804000" stroke-width="1.25"/>
<path d="M1274.35 176.10L1281.60 170.50L1288.85 176.10L1281.60 181.70Z" fill="none" stroke="#804000" stroke-width="1.25"/>
<path d="M1308.75 173.80L1316.00 168.20L1323.25 173.80L1316.00 179.40Z" fill="none" stroke="#804000" stroke-width="1.25"/>
<path d="M1343.15 168.70L1350.40 163.10L1357.65 168.70L1350.40 174.30Z" fill="none" stroke="#804000" stroke-width="1.25"/>
<path d="M1377.55 163.70L1384.80 158.10L1392.05 163.70L1384.80 169.30Z" fill="none" stroke="#804000" stroke-width="1.25"/>
<path d="M1411.95 163.70L1419.20 158.10L1426.45 163.70L1419.20 169.30Z" fill="none" stroke="#804000" stroke-width="1.25"/>
<path d="M1446.35 172.50L1453.60 166.90L1460.85 172.50L1453.60 178.10Z" fill="none" stroke="#804000" stroke-width="1.25"/>
<path d="M1480.75 192.80L1488.00 187.20L1495.25 192.80L1488.00 198.40Z" fill="none" stroke="#804000" stroke-width="1.25"/>
<path d="M1515.15 226.20L1522.40 220.60L1529.65 226.20L1522.40 231.80Z" fill="none" stroke="#804000" stroke-width="1.25"/>
<path d="M1549.55 269.50L1556.80 263.90L1564.05 269.50L1556.80 275.10Z" fill="none" stroke="#804000" stroke-width="1.25"/>
<path d="M1583.95 318.00L1591.20 312.40L1598.45 318.00L1591.20 323.60Z" fill="none" stroke="#804000" stroke-width="1.25"/>
<path d="M1618.35 369.00L1625.60 363.40L1632.85 369.00L1625.60 374.60Z" fill="none" stroke="#804000" stroke-width="1.25"/>
</g>
<text transform="translate(343.50,23.60) scale(1.4054,1)" font-size="31.65" fill="#000">(a) t=0.2</text>
<text transform="translate(1201.31,23.62) scale(1.3823,1)" font-size="31.98" fill="#000">(b) t=0.5</text>
<text transform="translate(89.60,56.35) scale(1.2840,1)" font-size="22.50" fill="#000">3</text>
<text transform="translate(89.60,205.75) scale(1.2840,1)" font-size="22.50" fill="#000">2</text>
<text transform="translate(90.64,353.45) scale(1.2840,1)" font-size="22.50" fill="#000">1</text>
<text transform="translate(89.74,501.36) scale(1.2840,1)" font-size="22.50" fill="#000">0</text>
<text transform="translate(918.50,56.05) scale(1.2840,1)" font-size="22.50" fill="#000">3</text>
<text transform="translate(918.70,209.15) scale(1.2840,1)" font-size="22.50" fill="#000">2</text>
<text transform="translate(920.04,362.15) scale(1.2840,1)" font-size="22.50" fill="#000">1</text>
<text transform="translate(918.74,515.26) scale(1.2840,1)" font-size="22.50" fill="#000">0</text>
<text transform="translate(93.74,518.42) scale(1.5675,1)" font-size="22.50">−</text>
<text transform="translate(119.54,516.85) scale(1.2840,1)" font-size="22.50" fill="#000">1</text>
<text transform="translate(238.74,518.42) scale(1.5675,1)" font-size="22.50">−</text>
<text transform="translate(263.74,516.96) scale(1.2840,1)" font-size="22.50" fill="#000">0.5</text>
<text transform="translate(420.84,516.96) scale(1.2840,1)" font-size="22.50" fill="#000">0</text>
<text transform="translate(566.04,516.96) scale(1.2840,1)" font-size="22.50" fill="#000">0.5</text>
<text transform="translate(738.54,516.85) scale(1.2840,1)" font-size="22.50" fill="#000">1</text>
<text transform="translate(922.94,532.12) scale(1.5675,1)" font-size="22.50">−</text>
<text transform="translate(949.04,530.55) scale(1.2840,1)" font-size="22.50" fill="#000">1</text>
<text transform="translate(1082.74,532.12) scale(1.5675,1)" font-size="22.50">−</text>
<text transform="translate(1107.34,530.66) scale(1.2840,1)" font-size="22.50" fill="#000">0.5</text>
<text transform="translate(1279.34,530.66) scale(1.2840,1)" font-size="22.50" fill="#000">0</text>
<text transform="translate(1438.94,530.66) scale(1.2840,1)" font-size="22.50" fill="#000">0.5</text>
<text transform="translate(1625.84,530.55) scale(1.2840,1)" font-size="22.50" fill="#000">1</text>
<text transform="translate(412.61,572.90) scale(1.6777,1)" font-size="26.38" fill="#000">r</text>
<text transform="translate(1271.11,586.70) scale(1.7052,1)" font-size="25.96" fill="#000">r</text>
<text transform="translate(29.39,302.80) scale(1.3271,1) rotate(-90)" font-size="27.74" stroke="#fff" stroke-width="0.45">vc(r,t)</text>
<text transform="translate(858.59,309.70) scale(1.3536,1) rotate(-90)" font-size="27.20" stroke="#fff" stroke-width="0.45">vc(r,t)</text>
<line x1="113.20" y1="613.50" x2="172.20" y2="613.50" stroke="#ff0000" stroke-width="1.4"/>
<rect x="112.60" y="607.75" width="16.4" height="11.5" fill="#ff0000"/>
<rect x="134.30" y="607.75" width="16.4" height="11.5" fill="#ff0000"/>
<rect x="156.00" y="607.75" width="16.4" height="11.5" fill="#ff0000"/>
<text transform="translate(186.38,621.00) scale(1.3104,1)" font-size="28.97" fill="#000">Gr=0.25</text>
<line x1="113.20" y1="648.25" x2="172.20" y2="648.25" stroke="#0000ff" stroke-width="1.4"/>
<path d="M113.55 648.25L120.80 642.25L128.05 648.25L120.80 654.25Z" fill="#0000ff"/>
<path d="M135.25 648.25L142.50 642.25L149.75 648.25L142.50 654.25Z" fill="#0000ff"/>
<path d="M156.95 648.25L164.20 642.25L171.45 648.25L164.20 654.25Z" fill="#0000ff"/>
<text transform="translate(186.38,655.75) scale(1.3104,1)" font-size="28.97" fill="#000">Gr=0.5</text>
<line x1="113.20" y1="683.00" x2="172.20" y2="683.00" stroke="#00ff00" stroke-width="1.4"/>
<path d="M116.80 677.00L124.80 677.00L129.30 681.40L129.30 684.60L124.80 689.00L116.80 689.00L112.30 684.60L112.30 681.40Z" fill="#00ff00"/>
<path d="M138.50 677.00L146.50 677.00L151.00 681.40L151.00 684.60L146.50 689.00L138.50 689.00L134.00 684.60L134.00 681.40Z" fill="#00ff00"/>
<path d="M160.20 677.00L168.20 677.00L172.70 681.40L172.70 684.60L168.20 689.00L160.20 689.00L155.70 684.60L155.70 681.40Z" fill="#00ff00"/>
<text transform="translate(186.38,690.50) scale(1.3104,1)" font-size="28.97" fill="#000">Gr=0.75</text>
<line x1="113.20" y1="717.75" x2="172.20" y2="717.75" stroke="#ff00ff" stroke-width="1.4"/>
<path d="M120.80 711.95L129.40 723.55L112.20 723.55Z" fill="#ff00ff"/>
<path d="M142.50 711.95L151.10 723.55L133.90 723.55Z" fill="#ff00ff"/>
<path d="M164.20 711.95L172.80 723.55L155.60 723.55Z" fill="#ff00ff"/>
<text transform="translate(186.38,725.25) scale(1.3104,1)" font-size="28.97" fill="#000">Gr=1.5</text>
<line x1="113.20" y1="752.50" x2="172.20" y2="752.50" stroke="#000000" stroke-width="1.4"/>
<rect x="113.55" y="747.35" width="14.5" height="10.3" fill="none" stroke="#000000" stroke-width="1.5"/>
<rect x="135.25" y="747.35" width="14.5" height="10.3" fill="none" stroke="#000000" stroke-width="1.5"/>
<rect x="156.95" y="747.35" width="14.5" height="10.3" fill="none" stroke="#000000" stroke-width="1.5"/>
<text transform="translate(186.38,760.00) scale(1.3104,1)" font-size="28.97" fill="#000">Gr=2</text>
<line x1="113.20" y1="787.25" x2="172.20" y2="787.25" stroke="#800080" stroke-width="1.4"/>
<path d="M113.55 787.25L120.80 781.65L128.05 787.25L120.80 792.85Z" fill="none" stroke="#800080" stroke-width="1.25"/>
<path d="M135.25 787.25L142.50 781.65L149.75 787.25L142.50 792.85Z" fill="none" stroke="#800080" stroke-width="1.25"/>
<path d="M156.95 787.25L164.20 781.65L171.45 787.25L164.20 792.85Z" fill="none" stroke="#800080" stroke-width="1.25"/>
<text transform="translate(186.38,794.75) scale(1.3104,1)" font-size="28.97" fill="#000">Gr=2.5</text>
<line x1="942.70" y1="627.70" x2="1001.70" y2="627.70" stroke="#ff0000" stroke-width="1.4"/>
<rect x="942.10" y="621.95" width="16.4" height="11.5" fill="#ff0000"/>
<rect x="963.80" y="621.95" width="16.4" height="11.5" fill="#ff0000"/>
<rect x="985.50" y="621.95" width="16.4" height="11.5" fill="#ff0000"/>
<text transform="translate(1015.88,635.20) scale(1.3104,1)" font-size="28.97" fill="#000">Gr=0.25</text>
<line x1="942.70" y1="662.45" x2="1001.70" y2="662.45" stroke="#0000ff" stroke-width="1.4"/>
<path d="M943.05 662.45L950.30 656.45L957.55 662.45L950.30 668.45Z" fill="#0000ff"/>
<path d="M964.75 662.45L972.00 656.45L979.25 662.45L972.00 668.45Z" fill="#0000ff"/>
<path d="M986.45 662.45L993.70 656.45L1000.95 662.45L993.70 668.45Z" fill="#0000ff"/>
<text transform="translate(1015.88,669.95) scale(1.3104,1)" font-size="28.97" fill="#000">Gr=0.5</text>
<line x1="942.70" y1="697.20" x2="1001.70" y2="697.20" stroke="#00ff00" stroke-width="1.4"/>
<path d="M946.30 691.20L954.30 691.20L958.80 695.60L958.80 698.80L954.30 703.20L946.30 703.20L941.80 698.80L941.80 695.60Z" fill="#00ff00"/>
<path d="M968.00 691.20L976.00 691.20L980.50 695.60L980.50 698.80L976.00 703.20L968.00 703.20L963.50 698.80L963.50 695.60Z" fill="#00ff00"/>
<path d="M989.70 691.20L997.70 691.20L1002.20 695.60L1002.20 698.80L997.70 703.20L989.70 703.20L985.20 698.80L985.20 695.60Z" fill="#00ff00"/>
<text transform="translate(1015.88,704.70) scale(1.3104,1)" font-size="28.97" fill="#000">Gr=0.75</text>
<line x1="942.70" y1="731.95" x2="1001.70" y2="731.95" stroke="#ff00ff" stroke-width="1.4"/>
<path d="M950.30 726.15L958.90 737.75L941.70 737.75Z" fill="#ff00ff"/>
<path d="M972.00 726.15L980.60 737.75L963.40 737.75Z" fill="#ff00ff"/>
<path d="M993.70 726.15L1002.30 737.75L985.10 737.75Z" fill="#ff00ff"/>
<text transform="translate(1015.88,739.45) scale(1.3104,1)" font-size="28.97" fill="#000">Gr=1.5</text>
<line x1="942.70" y1="766.70" x2="1001.70" y2="766.70" stroke="#00ffff" stroke-width="1.4"/>
<rect x="943.05" y="761.55" width="14.5" height="10.3" fill="none" stroke="#00ffff" stroke-width="1.5"/>
<rect x="964.75" y="761.55" width="14.5" height="10.3" fill="none" stroke="#00ffff" stroke-width="1.5"/>
<rect x="986.45" y="761.55" width="14.5" height="10.3" fill="none" stroke="#00ffff" stroke-width="1.5"/>
<text transform="translate(1015.88,774.20) scale(1.3104,1)" font-size="28.97" fill="#000">Gr=2</text>
<line x1="942.70" y1="801.45" x2="1001.70" y2="801.45" stroke="#804000" stroke-width="1.4"/>
<path d="M943.05 801.45L950.30 795.85L957.55 801.45L950.30 807.05Z" fill="none" stroke="#804000" stroke-width="1.25"/>
<path d="M964.75 801.45L972.00 795.85L979.25 801.45L972.00 807.05Z" fill="none" stroke="#804000" stroke-width="1.25"/>
<path d="M986.45 801.45L993.70 795.85L1000.95 801.45L993.70 807.05Z" fill="none" stroke="#804000" stroke-width="1.25"/>
<text transform="translate(1015.88,808.95) scale(1.3104,1)" font-size="28.97" fill="#000">Gr=2.5</text>
</svg></body></html>
